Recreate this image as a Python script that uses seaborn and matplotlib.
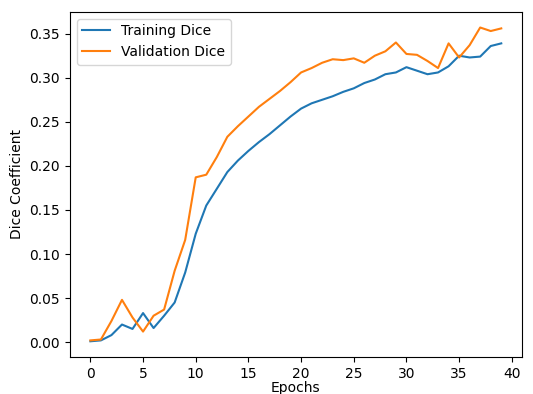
import numpy as np
import pandas as pd
import seaborn as sns
import matplotlib
matplotlib.use("Agg")
import matplotlib.pyplot as plt

# ======================
# Data
# ======================
epochs = list(range(40))

train_dice = [0.001, 0.002, 0.008, 0.020, 0.015, 0.033, 0.016, 0.030, 0.045, 0.079,
              0.123, 0.155, 0.174, 0.193, 0.206, 0.217, 0.227, 0.236, 0.246, 0.256,
              0.265, 0.271, 0.275, 0.279, 0.284, 0.288, 0.294, 0.298, 0.304, 0.306,
              0.312, 0.308, 0.304, 0.306, 0.313, 0.325, 0.323, 0.324, 0.336, 0.339]

val_dice = [0.002, 0.003, 0.024, 0.048, 0.028, 0.012, 0.030, 0.037, 0.081, 0.116,
            0.187, 0.190, 0.210, 0.233, 0.245, 0.256, 0.267, 0.276, 0.285, 0.295,
            0.306, 0.311, 0.317, 0.321, 0.320, 0.322, 0.317, 0.325, 0.330, 0.340,
            0.327, 0.326, 0.319, 0.311, 0.339, 0.323, 0.337, 0.357, 0.353, 0.356]

df = pd.DataFrame({
    "Epoch": epochs + epochs,
    "Dice": train_dice + val_dice,
    "Series": ["Training Dice"] * len(epochs) + ["Validation Dice"] * len(epochs),
})

# ======================
# Plot
# ======================
fig = plt.figure(figsize=(5.33, 3.94), dpi=100)
ax = fig.add_axes([0.131, 0.094, 0.848, 0.876])

sns.lineplot(data=df, x="Epoch", y="Dice", hue="Series",
             palette=["#1f77b4", "#ff7f0e"], linewidth=1.5, ax=ax)

ax.set_xlabel("Epochs", labelpad=0)
ax.set_ylabel("Dice Coefficient")
ax.set_xticks([0, 5, 10, 15, 20, 25, 30, 35, 40])
ax.legend(title=None, loc="upper left")

fig.savefig("out.png", dpi=100)
